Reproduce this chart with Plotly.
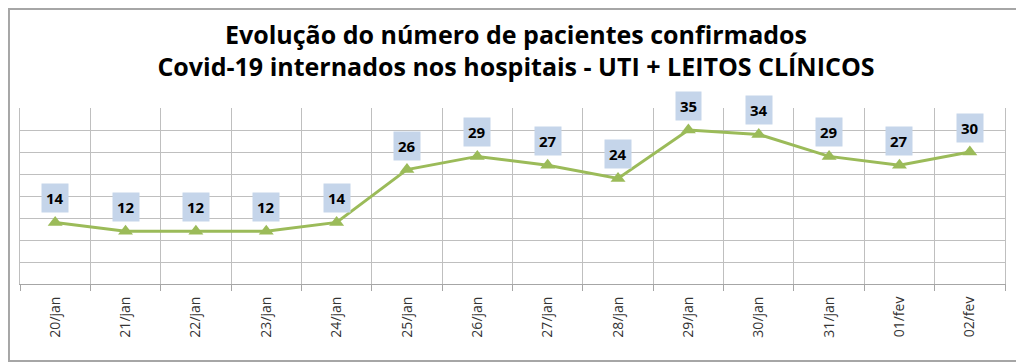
import plotly.graph_objects as go

dates = ["20/jan", "21/jan", "22/jan", "23/jan", "24/jan", "25/jan", "26/jan",
         "27/jan", "28/jan", "29/jan", "30/jan", "31/jan", "01/fev", "02/fev"]
patients = [14, 12, 12, 12, 14, 26, 29, 27, 24, 35, 34, 29, 27, 30]

title_text = ("Evolução do número de pacientes confirmados<br>"
              "Covid-19 internados nos hospitais - UTI + LEITOS CLÍNICOS")

FONT = "Open Sans, Lato, sans-serif"

fig = go.Figure()
fig.add_trace(go.Scatter(
    x=dates, y=patients, mode="lines+markers",
    line=dict(color="#9BBB59", width=3),
    marker=dict(symbol="triangle-up", size=13, color="#9BBB59"),
    hoverinfo="x+y", showlegend=False,
))

for d, v in zip(dates, patients):
    fig.add_annotation(
        x=d, y=v, text=f"<b>{v}</b>", showarrow=False, yshift=24,
        bgcolor="#C5D5EA", borderpad=4,
        font=dict(family=FONT, size=15, color="#000000"),
    )

fig.add_shape(type="rect", xref="paper", yref="paper",
              x0=-0.0112, x1=1.0152, y0=-0.4375, y1=1.5625,
              line=dict(color="#A6A6A6", width=2), fillcolor="rgba(0,0,0,0)")

fig.update_layout(
    width=1016, height=356,
    margin=dict(l=12, r=19, t=100, b=80),
    paper_bgcolor="white", plot_bgcolor="white",
    title=dict(text=f"<b>{title_text}</b>", x=0.5, xanchor="center",
               y=1 - 35.5 / 356, yanchor="middle", xref="container",
               font=dict(family=FONT, size=25, color="#000000")),
    xaxis=dict(
        type="category", range=[-0.5, 13.5], tickson="boundaries",
        showgrid=True, gridcolor="#BFBFBF", gridwidth=1,
        ticks="outside", ticklen=6, tickcolor="#A6A6A6",
        showline=True, linecolor="#A6A6A6", linewidth=1,
        tickangle=-90, ticklabelstandoff=6,
        tickfont=dict(family=FONT, size=14, color="#333333"),
        fixedrange=True,
    ),
    yaxis=dict(
        range=[0, 40], dtick=5, showticklabels=False,
        showgrid=True, gridcolor="#BFBFBF", gridwidth=1,
        zeroline=False, showline=True, linecolor="#BFBFBF", mirror=True,
        fixedrange=True,
    ),
)

fig.write_html("out.html")
